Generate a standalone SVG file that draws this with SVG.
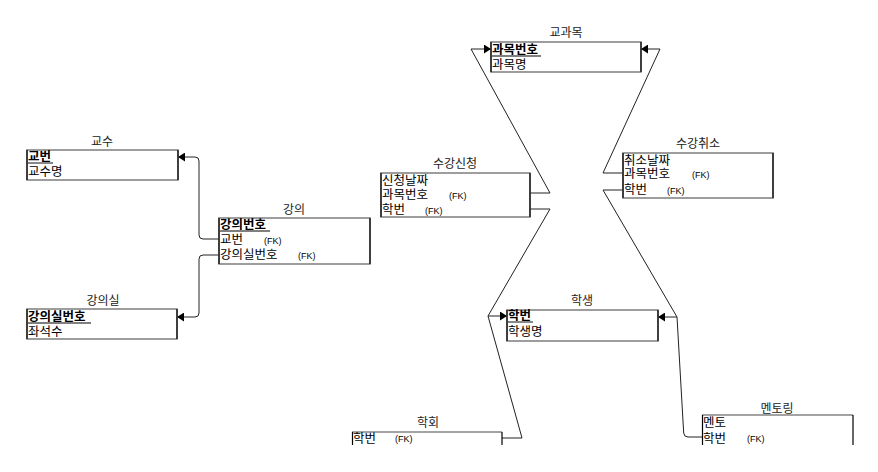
<svg xmlns="http://www.w3.org/2000/svg" width="878" height="472" viewBox="0 0 878 472">
<style>
text{font-family:"Noto Sans CJK KR","Liberation Sans",sans-serif;fill:#000}
.t{font-size:12px;text-anchor:middle;fill:#222}
.r{font-size:12.5px}
.pk{font-size:12.5px;font-weight:bold}
.fk{font-family:"Liberation Sans",sans-serif;font-size:9px}
.box{fill:#fff;stroke:#858585;stroke-width:1.6}
.side{stroke:#000;stroke-width:1.2}
.ul{stroke:#555;stroke-width:1.4}
.c{fill:none;stroke:#222;stroke-width:1}
</style>
<defs>
<marker id="a" markerUnits="userSpaceOnUse" markerWidth="8" markerHeight="9" refX="7" refY="4.5" orient="auto">
<path d="M0,0 L7,4.5 L0,9 z" fill="#000"/>
</marker>
</defs>
<rect width="878" height="472" fill="#fff"/>
<g id="connectors">
<path class="c" d="M219,239 H203 Q199,239 199,235 V161 Q199,157 195,157 H178" marker-end="url(#a)"/>
<path class="c" d="M219,255 H203 Q199,255 199,259 V313 Q199,317 195,317 H177" marker-end="url(#a)"/>
<path class="c" d="M530,193 H550 L471,49 H491" marker-end="url(#a)"/>
<path class="c" d="M623,173 H603 L660,49 H641" marker-end="url(#a)"/>
<path class="c" d="M530,209 H550 L488,316 H507" marker-end="url(#a)"/>
<path class="c" d="M502,438 H522 L488,316"/>
<path class="c" d="M623,190 H603 L677,317 H658" marker-end="url(#a)"/>
<path class="c" d="M702,437 H688 Q684,437 683.7,433 L677,317"/>
</g>
<g id="gyosu">
<text class="t" x="102" y="146">교수</text>
<rect class="box" x="27" y="150" width="151" height="30"/>
<line class="side" x1="27" y1="150" x2="27" y2="180"/><line class="side" x1="178" y1="150" x2="178" y2="180"/>
<text class="pk" x="28" y="161">교번</text><line class="ul" x1="28" y1="163" x2="53" y2="163"/>
<text class="r" x="28" y="176">교수명</text>
</g>
<g id="gangui">
<text class="t" x="294" y="214">강의</text>
<rect class="box" x="219" y="218" width="151" height="46"/>
<line class="side" x1="219" y1="218" x2="219" y2="264"/><line class="side" x1="370" y1="218" x2="370" y2="264"/>
<text class="pk" x="220" y="229">강의번호</text><line class="ul" x1="220" y1="231" x2="270" y2="231"/>
<text class="r" x="220" y="244">교번</text><text class="fk" x="264" y="244">(FK)</text>
<text class="r" x="220" y="259">강의실번호</text><text class="fk" x="298" y="259">(FK)</text>
</g>
<g id="ganguisil">
<text class="t" x="103" y="305">강의실</text>
<rect class="box" x="27" y="309" width="150" height="30"/>
<line class="side" x1="27" y1="309" x2="27" y2="339"/><line class="side" x1="177" y1="309" x2="177" y2="339"/>
<text class="pk" x="28" y="321">강의실번호</text><line class="ul" x1="28" y1="323" x2="91" y2="323"/>
<text class="r" x="28" y="336">좌석수</text>
</g>
<g id="sugangsincheong">
<text class="t" x="455" y="168">수강신청</text>
<rect class="box" x="381" y="173" width="149" height="44"/>
<line class="side" x1="381" y1="173" x2="381" y2="217"/><line class="side" x1="530" y1="173" x2="530" y2="217"/>
<text class="r" x="382" y="185">신청날짜</text>
<text class="r" x="382" y="199">과목번호</text><text class="fk" x="449" y="199">(FK)</text>
<text class="r" x="382" y="214">학번</text><text class="fk" x="425" y="214">(FK)</text>
</g>
<g id="gyogwamok">
<text class="t" x="566" y="37">교과목</text>
<rect class="box" x="491" y="42" width="150" height="30"/>
<line class="side" x1="491" y1="42" x2="491" y2="72"/><line class="side" x1="641" y1="42" x2="641" y2="72"/>
<text class="pk" x="492" y="54">과목번호</text><line class="ul" x1="492" y1="56" x2="541" y2="56"/>
<text class="r" x="492" y="69">과목명</text>
</g>
<g id="sugangchwiso">
<text class="t" x="698" y="148">수강취소</text>
<rect class="box" x="623" y="153" width="150" height="45"/>
<line class="side" x1="623" y1="153" x2="623" y2="198"/><line class="side" x1="773" y1="153" x2="773" y2="198"/>
<text class="r" x="624" y="165">취소날짜</text>
<text class="r" x="624" y="178">과목번호</text><text class="fk" x="692" y="178">(FK)</text>
<text class="r" x="624" y="194">학번</text><text class="fk" x="667" y="194">(FK)</text>
</g>
<g id="haksaeng">
<text class="t" x="582" y="305">학생</text>
<rect class="box" x="507" y="310" width="151" height="31"/>
<line class="side" x1="507" y1="310" x2="507" y2="341"/><line class="side" x1="658" y1="310" x2="658" y2="341"/>
<text class="pk" x="508" y="320">학번</text><line class="ul" x1="508" y1="322" x2="533" y2="322"/>
<text class="r" x="508" y="336">학생명</text>
</g>
<g id="hakhoe">
<text class="t" x="428" y="427">학회</text>
<line x1="352" y1="432" x2="502" y2="432" stroke="#858585" stroke-width="1.6"/>
<line class="side" x1="352.5" y1="432" x2="352.5" y2="445"/><line class="side" x1="502" y1="432" x2="502" y2="445"/>
<text class="r" x="353" y="443">학번</text><text class="fk" x="395" y="442">(FK)</text>
</g>
<g id="mentoring">
<text class="t" x="777" y="413">멘토링</text>
<line x1="702" y1="415" x2="853" y2="415" stroke="#858585" stroke-width="1.6"/>
<line class="side" x1="702.5" y1="415" x2="702.5" y2="445"/><line class="side" x1="853" y1="415" x2="853" y2="445"/>
<text class="r" x="703" y="427">멘토</text>
<text class="r" x="703" y="443">학번</text><text class="fk" x="747" y="442">(FK)</text>
</g>
</svg>
